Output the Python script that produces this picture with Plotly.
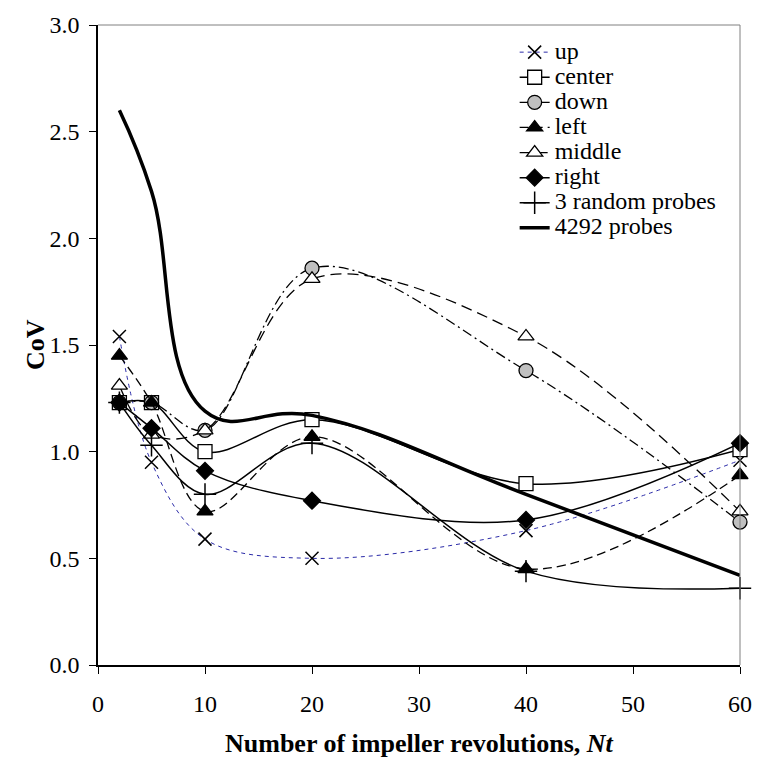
import plotly.graph_objects as go

# Number of impeller revolutions
nt = [2, 5, 10, 20, 40, 60]

# Coefficient of variation per probe location
cov_up = [1.54, 0.95, 0.59, 0.50, 0.63, 0.96]
cov_center = [1.23, 1.23, 1.00, 1.15, 0.85, 1.01]
cov_down = [1.23, 1.23, 1.10, 1.86, 1.38, 0.67]
cov_left = [1.45, 1.23, 0.72, 1.07, 0.45, 0.89]
cov_middle = [1.31, 1.08, 1.10, 1.81, 1.54, 0.72]
cov_right = [1.23, 1.11, 0.91, 0.77, 0.68, 1.04]
cov_random3 = [1.23, 1.03, 0.80, 1.04, 0.44, 0.36]
cov_4292 = [2.60, 2.22, 1.19, 1.17, 0.80, 0.42]

x_ticks = [0, 10, 20, 30, 40, 50, 60]
y_ticks = [0.0, 0.5, 1.0, 1.5, 2.0, 2.5, 3.0]

FONT = "Liberation Serif, Times New Roman, Times, serif"
LEG_FS = 17     # row pitch of the legend
TXT_FS = 24     # visible size of the legend text


def lname(s):
    return f'<span style="font-size:{TXT_FS}px">{s}</span>'


def marker(symbol, fill, size=13, lw=1.3):
    return dict(symbol=symbol, size=size, color=fill,
                line=dict(color="black", width=lw))


series = [
    ("up", cov_up, dict(color="#2a2aa8", width=1, dash="4px,4px"),
     marker("x-thin", "black", size=13, lw=1.5)),
    ("center", cov_center, dict(color="black", width=1.5, dash="solid"),
     marker("square", "white", size=14)),
    ("down", cov_down, dict(color="black", width=1.3, dash="10px,4px,2px,4px"),
     marker("circle", "#c0c0c0", size=14)),
    ("left", cov_left, dict(color="black", width=1.3, dash="9px,5px"),
     marker("triangle-up", "black", size=14)),
    ("middle", cov_middle, dict(color="black", width=1.3, dash="11px,6px"),
     marker("triangle-up", "white", size=14)),
    ("right", cov_right, dict(color="black", width=1.5, dash="solid"),
     marker("diamond", "black", size=13)),
    ("3 random probes", cov_random3, dict(color="black", width=1.5, dash="solid"),
     marker("cross-thin", "black", size=16, lw=1.5)),
]

fig = go.Figure()

for name, ys, line, mk in series:
    fig.add_trace(go.Scatter(
        x=nt, y=ys, name=lname(name), mode="lines+markers",
        line=dict(shape="spline", smoothing=1, **line),
        marker=mk, cliponaxis=False,
    ))

fig.add_trace(go.Scatter(
    x=nt, y=cov_4292, name=lname("4292 probes"), mode="lines",
    line=dict(shape="spline", smoothing=1.2, color="black", width=3.5),
))

axis_font = dict(family=FONT, size=24, color="black")

fig.update_layout(
    width=764, height=761,
    margin=dict(l=98, r=14, t=17, b=96),
    paper_bgcolor="white", plot_bgcolor="white",
    font=dict(family=FONT, color="black"),
    showlegend=True,
    legend=dict(
        x=0.649, y=0.985, xanchor="left", yanchor="top",
        font=dict(family=FONT, size=LEG_FS, color="black"),
        bgcolor="rgba(0,0,0,0)", borderwidth=0,
        itemwidth=30, tracegroupgap=0,
    ),
    xaxis=dict(
        range=[0, 60], tickvals=x_ticks, ticktext=[str(v) for v in x_ticks],
        showgrid=False, zeroline=False, showline=True,
        linecolor="black", linewidth=1.5,
        ticks="outside", ticklen=7, tickwidth=1, tickcolor="black",
        tickfont=axis_font, ticklabelstandoff=9,
    ),
    yaxis=dict(
        range=[0, 3], tickvals=y_ticks, ticktext=[f"{v:.1f}" for v in y_ticks],
        showgrid=False, zeroline=False, showline=True,
        linecolor="black", linewidth=1.5,
        ticks="outside", ticklen=7, tickwidth=1, tickcolor="black",
        tickfont=axis_font, ticklabelstandoff=5,
    ),
    shapes=[
        dict(type="line", xref="paper", yref="paper", x0=0, x1=1, y0=1, y1=1,
             line=dict(color="#808080", width=1)),
        dict(type="line", xref="paper", yref="paper", x0=1, x1=1, y0=0, y1=1,
             line=dict(color="#808080", width=1)),
    ],
    annotations=[
        dict(text="<b>Number of impeller revolutions, <i>Nt</i></b>",
             xref="paper", yref="paper", x=0.5, y=-0.123,
             xanchor="center", yanchor="middle", showarrow=False,
             font=dict(family=FONT, size=26, color="black")),
        dict(text="<b>CoV</b>", textangle=-90,
             xref="paper", yref="paper", x=-0.098, y=0.5,
             xanchor="center", yanchor="middle", showarrow=False,
             font=dict(family=FONT, size=26, color="black")),
    ],
)

fig.write_html("out.html")
